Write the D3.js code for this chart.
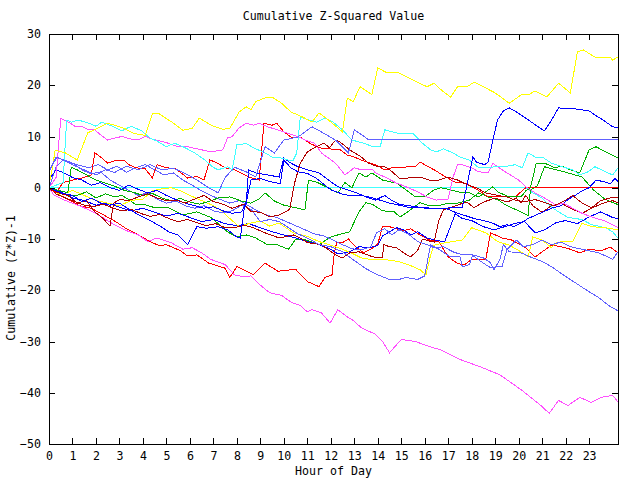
<!DOCTYPE html>
<html><head><meta charset="utf-8">
<script src="https://cdn.jsdelivr.net/npm/d3@7"></script>
<style>
html,body{margin:0;padding:0;background:#fff;}
svg{display:block;}
text{font-family:"DejaVu Sans Mono",monospace;font-size:11.6px;fill:#000;}
</style>
</head><body>
<svg id="chart" width="640" height="480"></svg>
<script>
// ---- tick labels / texts ----
const hourTicks = [0,1,2,3,4,5,6,7,8,9,10,11,12,13,14,15,16,17,18,19,20,21,22,23];
const valueTicks = [30,20,10,0,-10,-20,-30,-40,-50];
const titleText = "Cumulative Z-Squared Value";
const xLabelText = "Hour of Day";
const yLabelText = "Cumulative (Z*Z)-1";

// ---- series data: [hour, cumulative value] ----
const cyanLate = [[0,0],[20.3,0],[20.6,-1],[21.0,-2],[21.4,-3.8],[21.7,-4.7],[22.1,-5.8],[22.7,-6.2],[23.1,-7.2],[23.7,-7.8],[24.0,-8.6],[24.23,-9.8]];

const yellowTop = [[0,0.5],[0.15,4],[0.26,7.3],[0.7,6.8],[1.2,5.4],[1.65,10.7],[2.5,12.6],[3.2,11.6],[3.6,10.6],[4.1,10.2],[4.4,14.4],[4.7,14.4],[5.3,12.6],[5.7,11.2],[6.1,11.6],[6.4,13.6],[6.9,12.2],[7.4,11.4],[7.7,11.6],[8.1,14.8],[8.4,15.8],[8.6,15.2],[8.8,16.8],[9.3,17.7],[9.5,17.7],[9.9,16.5],[10.3,14.8],[10.8,13.8],[11.2,12.8],[11.5,14.6],[11.8,13.6],[12.5,10.9],[12.7,17.5],[12.95,16.8],[13.25,19.7],[13.75,18.2],[14.0,23.4],[14.4,22.4],[14.9,22.4],[15.5,21],[16.1,19.7],[16.4,20.4],[16.7,19.1],[17.1,17.7],[17.4,19.7],[17.8,19.7],[18.1,20.6],[18.5,19.7],[19.0,18.5],[19.6,16.5],[20.1,18.1],[20.4,18.1],[20.7,18.9],[21.2,17.7],[21.7,20.4],[22.2,18.5],[22.5,26.5],[22.75,26.9],[23.25,25.5],[23.9,25.5],[24.0,24.9],[24.23,25.5]];

const yellowLow = [[0,0],[0.5,-1.5],[1.0,-0.5],[1.5,-1.5],[2,-2.5],[2.5,-3],[3,-3.5],[3.5,-2.5],[4,-2.2],[4.4,-0.6],[4.8,-0.2],[5.2,0],[5.6,-0.6],[6,-1.5],[6.5,-2.5],[7,-3.5],[7.3,-4.3],[7.7,-6],[8.1,-7.6],[8.5,-7],[9,-6.5],[9.4,-7.5],[9.8,-6.9],[10.4,-8.8],[11,-9.5],[11.5,-10.5],[12,-11.2],[12.5,-12],[13,-13],[13.3,-13.7],[13.7,-14],[14.3,-14],[14.9,-14.4],[15.3,-15],[15.8,-16],[16.05,-17],[16.23,-13.5],[16.4,-11.2],[16.9,-10.7],[17.6,-10.2],[18.0,-7.8],[18.6,-8.8],[19.1,-10.5],[19.6,-11.2],[20.1,-12.5],[20.4,-13.5],[20.6,-9.6],[21.0,-10.2],[21.4,-11.7],[21.6,-10.7],[21.9,-10.5],[22.3,-10.5],[22.7,-6.9],[23.1,-7.6],[23.7,-7.8],[24.23,-8.2]];

const magentaTop = [[0,0],[0.3,2],[0.5,13.5],[0.8,12.9],[1.1,12],[1.4,12],[1.7,11.3],[1.95,11.3],[2.2,10.3],[2.5,9.3],[2.8,9.7],[3.1,10],[3.5,9.5],[3.8,9.3],[4.1,10],[4.4,9.5],[5.0,8.8],[5.5,8],[5.9,8],[6.5,7.4],[6.9,7],[7.4,7.4],[7.6,9.7],[7.8,10],[8.1,11.7],[8.4,12.6],[8.7,12.2],[8.95,12.6],[9.3,11.9],[9.8,11.2],[10.2,10.6],[10.6,10],[10.9,9.3],[11.3,8.7],[11.6,6.8],[11.9,5.8],[12.2,4.8],[12.6,2.5],[13.0,3.9],[13.3,3.5],[13.8,3.5],[13.9,2.9],[14.3,2.1],[14.8,0.9],[15.2,0.2],[15.7,-0.8],[16.1,-1.8],[16.5,-2.4],[17.0,-2.2],[17.2,2],[17.4,4.5],[17.6,4.5],[18.0,3.9],[18.3,3.1],[18.7,3],[18.9,4.8],[19.1,4.1],[19.5,2.9],[20.0,1.5],[20.3,0.2],[20.7,-1],[21.1,-2],[21.6,-3.4],[21.9,-3],[22.3,-4],[22.7,-5],[23.3,-6],[23.7,-6.5],[24.23,-7.8]];

const magentaLow = [[0,0],[0.2,-1.4],[0.7,-2.5],[1.4,-3.7],[2,-5],[2.7,-7],[3.2,-8.2],[3.8,-9.2],[4.2,-10.5],[4.6,-9.8],[5.2,-10.7],[5.7,-12],[6.1,-11.7],[6.5,-12.7],[6.9,-14],[7.5,-15],[7.9,-17],[8.3,-17.4],[8.6,-17.2],[9.0,-19],[9.4,-20.5],[9.9,-21],[10.3,-22.3],[10.7,-23],[11.0,-24.2],[11.2,-23.8],[11.6,-24.4],[11.97,-26.4],[12.3,-23.8],[12.7,-25.2],[12.9,-25.7],[13.3,-27.3],[13.9,-28.6],[14.2,-30],[14.5,-32.2],[15.0,-29.6],[15.6,-30],[16.2,-31],[16.65,-31.6],[17.5,-33.5],[18.4,-35],[19.2,-36.5],[20.1,-39.4],[20.9,-42.3],[21.3,-44],[21.7,-41.5],[22.1,-42.5],[22.6,-40.9],[23.1,-41.9],[23.5,-40.9],[24.0,-40.5],[24.23,-41.8]];

const cyanTop = [[0,0],[0.3,0.5],[0.6,1],[0.75,13.2],[0.95,12.8],[1.25,13.2],[1.7,12.6],[2.0,12],[2.25,12.8],[2.7,12],[3.1,11.1],[3.5,12],[3.95,11.1],[4.3,9.7],[4.6,9.1],[5.0,8],[5.35,8.7],[5.8,7.8],[6.2,6.8],[6.65,5.4],[6.95,4.1],[7.2,3.5],[7.6,4.1],[7.8,3.5],[8.0,8.4],[8.4,8.6],[8.8,7.6],[9.2,6.8],[9.5,6],[9.75,6],[10.2,5.4],[10.4,5.4],[10.55,6.8],[10.7,13.8],[11.1,13.2],[11.4,12.8],[11.75,13.6],[12.1,12.8],[12.5,11.3],[12.9,9.3],[13.4,8.7],[13.8,8],[14.1,8],[14.3,11.3],[14.9,10.6],[15.5,10.6],[15.9,8.7],[16.25,7.4],[16.5,7],[16.8,7.6],[17.2,6.8],[17.5,6],[17.9,5.4],[18.3,3.9],[18.6,3.9],[19.0,4.1],[19.4,4.1],[19.85,4.5],[20.15,3.9],[20.4,6.8],[20.7,6],[21,6],[21.4,4.8],[21.85,4.1],[22.3,3.5],[22.6,2.5],[22.95,3.1],[23.25,4.1],[23.7,3.1],[24.0,2.5],[24.23,3.9]];

const medBlueFlat = [[0,3],[0.3,6],[0.6,5.4],[1.0,4.5],[1.5,3.5],[2.0,2.5],[2.4,3.5],[2.8,3],[3.3,4.2],[3.8,3.5],[4.3,4.5],[4.8,3.5],[5.3,3.8],[5.8,2.8],[6.3,1.5],[6.8,0],[7.2,-1],[7.5,2],[7.9,4],[8.4,3.1],[8.8,2.1],[9.2,8],[9.6,6.8],[10.0,9.3],[10.6,9.9],[11.2,11.9],[11.6,10.9],[12.2,9.3],[12.75,6.8],[13.0,11.3],[13.3,10.4],[13.6,9.4],[24.23,9.4]];

const blueRise = [[0,0],[0.5,-1],[1,-1.5],[1.4,-2.7],[1.8,-2],[2.2,-3],[2.6,-3.4],[3.0,-3],[3.4,-4.2],[3.9,-5.5],[4.3,-6.4],[4.7,-7.4],[5.1,-8.6],[5.5,-9.2],[5.9,-11.1],[6.3,-7.6],[6.7,-7.9],[7.2,-7.6],[7.6,-8.2],[8.0,-9.6],[8.15,-9.8],[8.3,-4.5],[8.45,-1.8],[8.6,1.5],[9.0,1.8],[9.4,1.2],[9.85,0.8],[10.0,5.4],[10.3,3.9],[10.6,3.1],[11.0,2.8],[11.4,1.8],[12.0,-0.4],[12.6,-1.4],[13.3,-1.5],[13.8,-2],[14.5,-3],[15.3,-3.8],[16.2,-4],[16.8,-4],[17.6,-3.8],[18.05,6],[18.2,5],[18.35,4.8],[18.55,4.5],[18.7,5],[18.9,9.3],[19.1,13.2],[19.35,15],[19.6,15.6],[19.9,14.8],[20.3,13.6],[20.7,12.3],[21.1,11.1],[21.4,13.2],[21.7,15.6],[22.1,15.4],[22.4,15.4],[23.0,15],[23.25,14.2],[23.6,13.2],[24.0,11.9],[24.23,11.7]];

const blueMid = [[0,1.5],[0.3,3.5],[0.6,3],[1.0,2],[1.4,1.5],[1.8,0.5],[2.2,1],[2.6,0],[3.0,-0.5],[3.4,0.5],[3.8,-0.3],[4.2,-1],[4.6,-0.5],[5.0,-1.5],[5.4,-2.3],[5.8,-3],[6.2,-3.5],[6.6,-4],[7.0,-3.7],[7.4,-4.5],[7.8,-5],[8.2,-4.7],[8.4,-3],[8.5,3.5],[8.8,2.9],[9.3,2.5],[9.8,2.1],[10.0,5.8],[10.3,4.8],[10.6,4.1],[11.0,3.5],[11.5,2.9],[11.9,1.5],[12.3,0.2],[12.7,-0.4],[13.1,-1],[13.5,-1.8],[13.9,-2.4],[14.3,-1.5],[14.6,-2.5],[14.9,-3.2],[15.3,-3.5],[15.8,-3.8],[16.3,-4],[16.9,-4],[17.3,-4.8],[17.7,-5.4],[18.1,-6],[18.5,-6.4],[18.9,-6.9],[19.2,-7.6],[19.5,-7.2],[19.8,-7.6],[20.1,-6.9],[20.4,-6],[20.7,-5.4],[21.1,-4.6],[21.4,-4],[21.8,-3.5],[22.1,-2.3],[22.4,-1.5],[22.7,-0.6],[23.0,0],[23.3,1.5],[23.6,1.2],[23.9,0.8],[24.1,1.8],[24.23,1.2]];

const blueLow = [[0,0],[0.5,-0.8],[1,-2],[1.5,-2.5],[2,-3.4],[2.5,-3],[3,-3.8],[3.5,-4.5],[4,-4],[4.5,-4.8],[5,-5.5],[5.5,-5],[6,-5.8],[6.5,-6.6],[7,-6.2],[7.5,-7],[8,-7.4],[8.5,-7],[9,-7.8],[9.5,-8.6],[10,-9.2],[10.5,-9.8],[11,-10.5],[11.5,-11.1],[12,-12],[12.3,-12.9],[12.8,-12.5],[13.2,-11.5],[13.6,-11.7],[14.0,-11.3],[14.2,-9.4],[14.5,-8.6],[14.8,-7.8],[15.1,-8.2],[15.4,-9.2],[15.7,-8.6],[16.1,-9.8],[16.5,-10.3],[16.85,-10.5],[17.3,-5.1],[17.6,-6],[18.0,-6.4],[18.5,-7.6],[18.95,-8.2],[19.4,-7.6],[19.8,-7],[20.25,-6.6],[20.7,-8.8],[21.1,-8.2],[21.6,-6.8],[22.0,-6.4],[22.5,-7],[23.0,-5.7],[23.5,-4.7],[24.0,-5.8],[24.23,-6]];

const redTop = [[0,0],[0.3,-1],[0.6,1],[1.0,1.5],[1.4,1.9],[1.8,2.5],[1.95,6.8],[2.2,6],[2.5,4.8],[2.9,5.4],[3.2,5.4],[3.4,4.5],[3.7,3.9],[4.1,3.7],[4.4,1.9],[4.6,4.5],[5.0,3.9],[5.4,3.7],[5.9,1.9],[6.3,2.2],[6.6,1.5],[6.85,5.4],[7.1,5],[7.5,3.9],[7.9,3.5],[8.5,2.1],[8.95,1.5],[9.15,12.6],[9.5,12.2],[9.7,12.6],[10.0,10.9],[10.3,9.9],[10.7,9.9],[11.1,8.7],[11.5,7.8],[11.9,7.6],[12.4,7.4],[12.7,6.4],[13.0,6],[13.3,5.4],[13.9,4.5],[14.3,3.5],[14.6,3.9],[14.9,3.9],[15.3,4.1],[15.6,4.1],[15.8,5],[16.0,4.5],[16.4,3.5],[16.9,2.1],[17.3,1.1],[17.7,0.9],[18.1,0],[18.45,-1],[18.7,-1.8],[19.85,-1.8],[20.3,0],[24.23,0]];

const redLow = [[0,0],[0.4,-1.2],[0.9,-2.5],[1.3,-3.5],[1.8,-4],[2.2,-5],[2.8,-6.5],[3.3,-8],[3.8,-9.2],[4.3,-10.5],[4.7,-11.3],[5.0,-11.1],[5.6,-12.3],[5.9,-13.3],[6.3,-13.1],[6.8,-14.7],[7.5,-15.7],[7.7,-17.5],[8.0,-15.4],[8.3,-16],[8.7,-17],[9.2,-14.7],[9.75,-16.3],[10.5,-15.9],[11.0,-18.3],[11.5,-19.3],[11.75,-17.5],[12.05,-17],[12.15,-12.7],[12.25,-10.7],[12.5,-10.7],[12.75,-10],[13.05,-11.5],[13.4,-12.7],[13.7,-12],[14.0,-11],[14.2,-7.6],[14.5,-7.6],[14.8,-8],[15.1,-8.4],[15.4,-8],[15.8,-9.2],[16.2,-10.2],[16.6,-10.5],[17.0,-13.5],[17.4,-14.8],[17.7,-15],[18.0,-14],[18.6,-14],[18.8,-8.8],[19.3,-9.8],[19.7,-10.2],[20.3,-11.7],[20.7,-13.5],[21.0,-12.5],[21.4,-11.2],[21.8,-11.5],[22.2,-12],[22.6,-12.7],[23.0,-12],[23.5,-12.3],[23.9,-11.6],[24.23,-12.7]];

const darkRedA = [[0,0],[0.4,-1],[0.8,-1.5],[1.2,-3],[1.6,-2.5],[1.9,-4.5],[2.3,-6],[2.6,-7.5],[2.75,-3],[3.0,-2.3],[3.4,-2.5],[3.8,-1.8],[4.2,-1.2],[4.6,-2],[5.0,-2.5],[5.4,-2.4],[5.8,-3],[6.2,-2.2],[6.6,-1.5],[7.0,-2.7],[7.4,-3.2],[7.8,-4],[8.3,-3.2],[8.6,-4.6],[9.0,-4.8],[9.4,-5.7],[9.8,-5.3],[10.1,-4.6],[10.25,-4.2],[10.45,0.8],[10.7,4.8],[11.0,7],[11.3,7.8],[11.7,8.7],[11.95,7.8],[12.2,9.3],[12.4,8.9],[12.8,7.4],[13.3,6],[13.6,4.8],[14.0,4.1],[14.3,4.1],[14.6,3.2],[14.9,1.9],[15.3,1.9],[15.8,2.1],[16.2,1.5],[16.6,1.5],[17.0,2.1],[17.4,1.5],[17.8,0.6],[18.2,0],[18.6,-1],[19.0,-1.4],[19.5,-1.8],[19.9,-2.5],[20.3,-2.7],[20.7,-2.3],[21.1,-2.9],[21.5,-3.5],[21.9,-2.7],[22.3,-1.5],[22.7,-3],[23.1,-3.9],[23.5,-2.5],[23.9,-2],[24.23,-1.8]];

const darkRedB = [[0,0],[0.3,-1.2],[0.7,-2],[1.1,-2.7],[1.5,-3.4],[1.9,-3.7],[2.3,-3.2],[2.7,-3.9],[3.1,-4.5],[3.5,-4.2],[3.9,-5],[4.3,-5.6],[4.7,-5.2],[5.1,-6],[5.5,-6.6],[5.9,-6.2],[6.3,-6.8],[6.7,-7.4],[7.1,-7],[7.5,-7.8],[7.9,-7.8],[8.3,-7.3],[8.7,-7.8],[9.2,-8.8],[9.8,-9.8],[10.4,-9.2],[10.7,-9.8],[11.0,-10.7],[11.6,-11.1],[12.2,-13.1],[12.5,-13.7],[12.8,-12.7],[13.2,-12.5],[13.8,-13.5],[14.2,-13.7],[14.25,-11.1],[14.5,-11.5],[14.8,-11.7],[15.1,-12.7],[15.4,-13.5],[15.7,-12.2],[15.9,-10],[16.2,-10.4],[16.4,-10.6],[16.6,-6.4],[16.8,-4.3],[17.1,-3.9],[17.5,-3.2],[17.8,-2.8],[18.1,-3.9],[18.5,-2.8],[19.0,-2],[19.5,-2.8],[19.9,-2],[20.1,-3],[20.3,-1.5],[20.6,-3.5],[21.0,-4.8],[21.4,-3.5],[21.8,-3],[22.2,-4],[22.7,-5],[23.1,-4],[23.6,-3],[24.0,-2.5],[24.23,-3]];

const greenA = [[0,0],[0.4,-0.5],[0.8,-1],[0.95,4],[1.2,3.5],[1.6,2.5],[2.0,1.5],[2.4,0.9],[2.8,0.3],[3.2,-0.5],[3.6,-0.9],[4.0,-1.5],[4.4,-1.1],[4.8,-2],[5.2,-2.5],[5.6,-2.1],[6.0,-2.8],[6.4,-3.2],[6.8,-2.7],[7.2,-2],[7.7,-1.8],[8.2,-2.6],[8.6,-3],[8.95,-2.2],[9.2,-1],[9.6,-2.6],[10.0,-3.4],[10.4,-3.8],[10.9,-4.3],[11.05,1.5],[11.4,1.1],[11.8,0.2],[12.3,-1],[12.6,1],[12.9,0],[13.2,2.9],[13.5,2.1],[13.75,2.9],[14.2,1.5],[14.8,0.9],[15.2,-0.4],[15.6,-1.8],[16.0,-1.8],[16.4,-0.4],[16.7,0],[17.1,-0.4],[17.5,-0.9],[17.9,-1],[18.3,-1.8],[18.9,0.2],[19.1,-0.8],[19.6,-1.8],[20.1,-1.8],[20.3,-0.6],[20.5,0],[20.75,4.8],[21.1,4.8],[21.5,4],[21.9,4.1],[22.2,3.5],[22.6,2.9],[23.0,7.4],[23.3,8],[23.7,7],[24.23,5.8]];

const greenB = [[0,0],[0.7,-1.4],[1.2,-1.5],[1.6,-0.8],[2.0,-2],[2.4,-1.2],[2.8,-1.8],[3.1,-1.5],[3.4,-2.3],[3.7,-3.3],[4.1,-3.3],[4.5,-3.9],[5.1,-3.9],[5.7,-5.3],[6.3,-4.7],[6.9,-5.8],[7.6,-8.6],[8.0,-9.6],[8.4,-9.2],[8.8,-9.8],[9.3,-11.1],[9.7,-11.1],[10.2,-12],[10.5,-10.1],[10.9,-10.1],[11.5,-11.1],[12.0,-9.6],[12.3,-9.2],[12.8,-8.6],[13.2,-4.7],[13.5,-2.9],[13.8,-3.3],[14.2,-4.5],[14.7,-4.7],[14.95,-5.7],[15.4,-4.3],[15.8,-2.9],[16.2,-3.5],[16.6,-3.5],[17.0,-3],[17.4,-3],[17.9,-2.4],[18.3,-1],[18.7,-1.8],[19.1,-2.3],[19.5,-3.5],[19.9,-4.3],[20.2,-5],[20.4,-5.4],[20.5,-0.4],[20.8,0.4],[21.1,4.1],[21.6,3.5],[22.1,2.9],[22.7,2.1],[23.2,-0.5],[23.7,-2.3],[24.23,-3.3]];

const medBlueA = [[0,0],[0.3,4],[0.6,5.5],[1.0,4.8],[1.4,3.5],[1.8,2.7],[2.2,3.1],[2.6,1.5],[3.0,0.5],[3.4,-0.5],[3.8,-1.5],[4.2,-1],[4.6,-2.2],[5.0,-3],[5.4,-2.6],[5.8,-3.5],[6.2,-4],[6.6,-3.5],[7.0,-4.5],[7.4,-4.9],[7.8,-4.5],[8.2,-3.4],[8.6,-4.2],[9.0,-6.6],[9.4,-6.2],[9.8,-6.6],[10.2,-7.8],[10.6,-9],[11.0,-9.8],[11.5,-11.1],[12.0,-11.5],[12.5,-12.5],[13.0,-14.2],[13.5,-15.8],[14.0,-17],[14.5,-17.9],[14.9,-17.9],[15.2,-17.5],[15.7,-17.9],[16.0,-17.2],[16.25,-11.1],[16.6,-12],[17.1,-13.5],[17.5,-13.5],[17.6,-15.4],[17.9,-15],[18.05,-13.1],[18.5,-13.7],[18.8,-14.6],[18.95,-16],[19.2,-14],[19.35,-11.1],[19.6,-12.5],[20.1,-12.7],[20.5,-13.5],[21.0,-14.4],[21.4,-15.4],[21.9,-17],[22.4,-18.5],[22.9,-20],[23.4,-21.4],[23.9,-23.2],[24.23,-24]];

const medBlueB = [[0,3.5],[0.35,6],[0.8,5],[1.2,4.5],[1.7,3.9],[2.1,4.5],[2.5,3.5],[2.9,4.2],[3.3,3],[3.7,3.9],[4.1,4.5],[4.5,3.5],[4.9,2.5],[5.3,2.9],[5.7,1.5],[6.1,0.5],[6.5,-0.6],[6.9,-1.5],[7.3,-2.3],[7.7,-3],[8.1,-2.5],[8.5,-3.5],[8.9,-4.6],[9.3,-5.4],[9.7,-5.8],[10.1,-6.6],[10.5,-7.4],[10.9,-8.2],[11.3,-9],[11.7,-9.4],[12.1,-10.2],[12.5,-11.1],[12.9,-11.9],[13.3,-12.1],[13.7,-11.5],[13.95,-8.8],[14.3,-8],[14.6,-9.2],[14.9,-8.2],[15.3,-9],[15.7,-10.5],[16.1,-11.1],[16.4,-11.7],[16.8,-11.5],[17.2,-12.5],[17.6,-13.1],[18.0,-13.1],[18.4,-14.4],[18.8,-15.6],[19.3,-15.3],[19.5,-12.1],[19.9,-10.2],[20.2,-11.5],[20.6,-11.1],[21.0,-10.2],[21.4,-11.1],[21.8,-10.6],[22.2,-11.5],[22.6,-11.9],[23.0,-12.3],[23.4,-12.7],[23.8,-13.5],[24.0,-14],[24.23,-12.5]];

// palette (gnuplot-like)
const RED="#ff0000", GREEN="#00b000", BLUE="#0000ff", MAGENTA="#ff50ff",
      CYAN="#40ffff", YELLOW="#ffff00", DARKRED="#b00000", MEDBLUE="#6060ff";

const seriesList = [
  {data: cyanLate, color: CYAN},
  {data: redLow, color: RED},
  {data: greenB, color: GREEN},
  {data: blueLow, color: BLUE},
  {data: magentaLow, color: MAGENTA},
  {data: yellowLow, color: YELLOW},
  {data: darkRedB, color: DARKRED},
  {data: medBlueA, color: MEDBLUE},
  {data: medBlueB, color: MEDBLUE},
  {data: redTop, color: RED},
  {data: greenA, color: GREEN},
  {data: blueMid, color: BLUE},
  {data: magentaTop, color: MAGENTA},
  {data: cyanTop, color: CYAN},
  {data: yellowTop, color: YELLOW},
  {data: darkRedA, color: DARKRED},
  {data: medBlueFlat, color: MEDBLUE},
  {data: blueRise, color: BLUE}
];

// ---- layout ----
const svgSel = d3.select("#chart");
const PL = 49, PR = 618, PT = 34, PB = 444;
const xScale = d3.scaleLinear().domain([0, 24.23]).range([PL, PR]);
const yScale = d3.scaleLinear().domain([-50, 30]).range([PB, PT]);

const lineGen = d3.line().x(d => xScale(d[0])).y(d => yScale(d[1]));

const plotG = svgSel.append("g");
plotG.selectAll("path.series").data(seriesList).enter().append("path")
  .attr("class","series")
  .attr("d", d => lineGen(d.data))
  .attr("fill","none")
  .attr("stroke", d => d.color)
  .attr("stroke-width", 1)
  .attr("shape-rendering","crispEdges");

// axes (inward ticks, mirrored)
const tickLen = 6;
const axG = svgSel.append("g").attr("shape-rendering","crispEdges");
axG.append("g").attr("transform",`translate(0,${PB})`)
  .call(d3.axisBottom(xScale).tickValues(hourTicks).tickSizeInner(-tickLen).tickSizeOuter(0).tickPadding(8).tickFormat(d3.format("d")));
axG.append("g").attr("transform",`translate(0,${PT})`)
  .call(d3.axisTop(xScale).tickValues(hourTicks).tickSizeInner(-tickLen).tickSizeOuter(0).tickFormat(""));
axG.append("g").attr("transform",`translate(${PL},0)`)
  .call(d3.axisLeft(yScale).tickValues(valueTicks).tickSizeInner(-tickLen).tickSizeOuter(0).tickPadding(8).tickFormat(d3.format("d")));
axG.append("g").attr("transform",`translate(${PR},0)`)
  .call(d3.axisRight(yScale).tickValues(valueTicks).tickSizeInner(-tickLen).tickSizeOuter(0).tickFormat(""));
axG.selectAll(".domain").remove();
axG.selectAll(".tick line").attr("stroke","#000");
axG.selectAll(".tick text").attr("font-family",'"DejaVu Sans Mono",monospace').attr("font-size","11.6px").attr("fill","#000");

// border
axG.append("rect").attr("x",PL).attr("y",PT).attr("width",PR-PL).attr("height",PB-PT)
  .attr("fill","none").attr("stroke","#000").attr("stroke-width",1);

// titles
svgSel.append("text").attr("x",(PL+PR)/2).attr("y",20).attr("text-anchor","middle").text(titleText);
svgSel.append("text").attr("x",(PL+PR)/2).attr("y",475).attr("text-anchor","middle").text(xLabelText);
svgSel.append("text").attr("transform","translate(15,278) rotate(-90)").attr("text-anchor","middle").text(yLabelText);
</script>
</body></html>
